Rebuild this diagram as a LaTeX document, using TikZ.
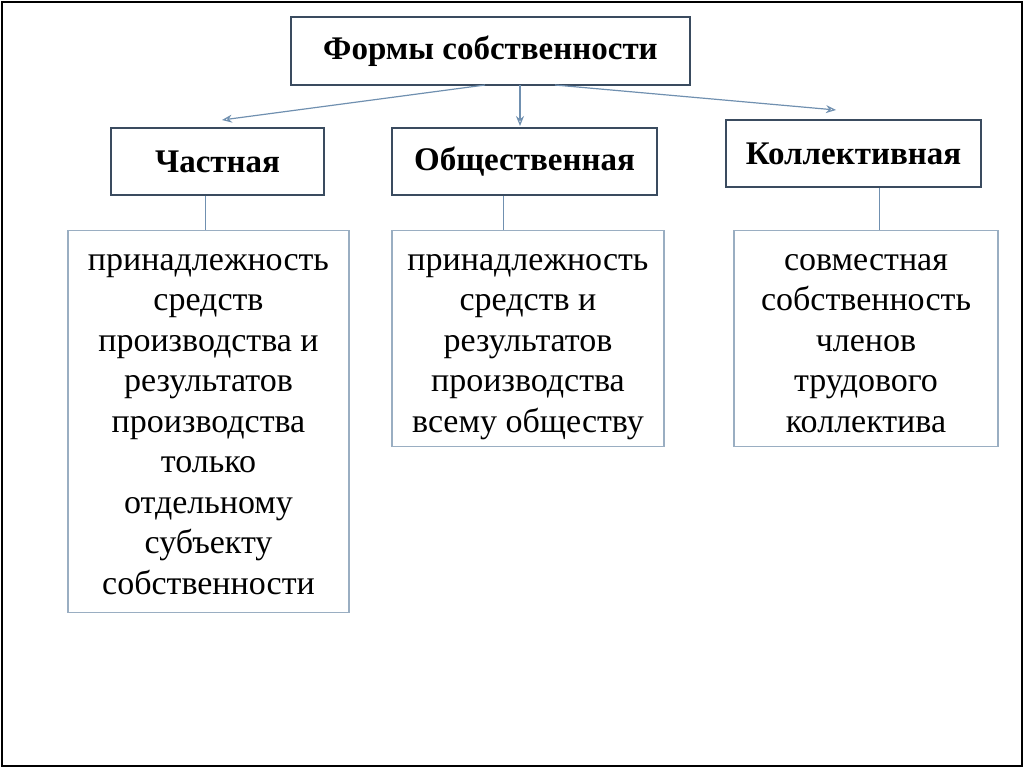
\documentclass[tikz,border=0pt]{standalone}
\usepackage{fontspec}
\setmainfont{Liberation Serif}
\usetikzlibrary{arrows.meta}
\begin{document}
\begin{tikzpicture}[x=1pt,y=-1pt,
 hdr/.style={draw=hdrc,line width=2.8pt,font=\fontsize{33}{38}\selectfont\bfseries,inner sep=0pt},
 body/.style={draw=bodyc,line width=1.2pt,inner sep=0pt},
 btxt/.style={anchor=north,font=\fontsize{34}{40.5}\selectfont,align=center,inner sep=0pt},
 arr/.style={draw=arrc,line width=1.2pt,-{Stealth[length=10pt,width=8pt,open]}},
 lnk/.style={draw=arrc,line width=1pt}]
\definecolor{hdrc}{HTML}{3A4B5F}
\definecolor{bodyc}{HTML}{9AAEC2}
\definecolor{arrc}{HTML}{7090B0}
\useasboundingbox (0,0) rectangle (1024,768);
\draw[line width=1.5pt] (2,2) rectangle (1022,766);
\node[hdr,minimum width=399pt,minimum height=68pt] (t) at (490.5,51) {Формы собственности};
\node[hdr,minimum width=213pt,minimum height=67pt] (a) at (217.5,161.5) {Частная};
\node[hdr,minimum width=265pt,minimum height=67pt] (b) at (524.5,161.5) {Общественная};
\node[hdr,minimum width=255pt,minimum height=67pt] (c) at (853.5,153.5) {Коллективная};
\node[body,minimum width=281pt,minimum height=382pt,anchor=north] (a2) at (208.5,230) {};
\node[btxt] (a3) at (208.5,254) {принадлежность\\средств\\производства и\\результатов\\производства\\только\\отдельному\\субъекту\\собственности};
\node[body,minimum width=272pt,minimum height=216pt,anchor=north] (b2) at (528,230) {};
\node[btxt] (b3) at (528,254) {принадлежность\\средств и\\результатов\\производства\\всему обществу};
\node[body,minimum width=264pt,minimum height=216pt,anchor=north] (c2) at (866,230) {};
\node[btxt] (c3) at (866,254) {совместная\\собственность\\членов\\трудового\\коллектива};
\coordinate (o1) at (485,85); \coordinate (o2) at (520,85); \coordinate (o3) at (555,85);
\coordinate (e1) at (222,120); \coordinate (e2) at (520,126); \coordinate (e3) at (836,110);
\draw[arr] (o1) -- (e1);
\draw[arr] (o2) -- (e2);
\draw[arr] (o3) -- (e3);
\draw[lnk] (a.south -| 205,0) -- (a2.north -| 205,0);
\draw[lnk] (b.south -| 503,0) -- (b2.north -| 503,0);
\draw[lnk] (c.south -| 879,0) -- (c2.north -| 879,0);
\end{tikzpicture}
\end{document}
